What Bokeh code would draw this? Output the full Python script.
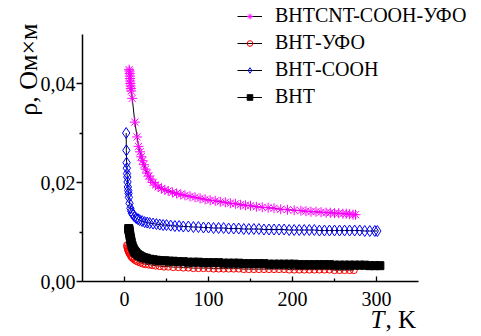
import math
from bokeh.plotting import figure
from bokeh.models import (Range1d, FixedTicker, CustomJSTickFormatter, Legend,
                          LegendItem, Label)
from bokeh.embed import file_html
from bokeh.resources import INLINE

# ---- data ----
names = ["ВНТCNT-СООН-УФО", "ВНТ-УФО", "ВНТ-СООН", "ВНТ"]

t_mag = [5.5, 6, 6.2, 6.4, 6.6, 6.8, 7, 7.3, 7.6, 8,
         9.2, 12.3, 15, 16.7, 18.5, 20, 21.5, 23, 25, 27,
         29, 31, 34, 37, 40, 44, 48, 52, 57, 62,
         67, 72, 78, 84, 90, 96, 102, 108, 114, 120,
         126, 132, 138, 144, 150, 157, 164, 171, 178, 186,
         194, 202, 210, 216, 222, 228, 234, 240, 245, 250,
         255, 260, 264, 268, 272, 275]
r_mag = [0.0428, 0.0425, 0.0420, 0.0415, 0.0410, 0.0405, 0.0400, 0.0395, 0.0390, 0.0385,
         0.0370, 0.0322, 0.0292, 0.0273, 0.0262, 0.0252, 0.0244, 0.0236, 0.0227, 0.0219,
         0.0213, 0.0207, 0.0200, 0.0195, 0.0191, 0.0188, 0.0185, 0.0183, 0.0180, 0.0178,
         0.0176, 0.0174, 0.0172, 0.0170, 0.0168, 0.0166, 0.0164, 0.0163, 0.0161, 0.0160,
         0.0158, 0.0157, 0.0155, 0.0154, 0.0153, 0.0151, 0.0150, 0.0149, 0.0148, 0.0146,
         0.0145, 0.0144, 0.0143, 0.0142, 0.0141, 0.0141, 0.0140, 0.0139, 0.0139, 0.0138,
         0.0138, 0.0137, 0.0137, 0.0136, 0.0135, 0.0135]

t_red = [3, 3.4, 3.8, 4.2, 4.6, 5, 5.5, 6, 7, 8,
         9, 10, 12, 14, 16, 19, 22, 25, 29, 33,
         37, 42, 47, 52, 58, 64, 70, 76, 82, 88,
         94, 100, 106, 112, 118, 124, 130, 136, 142, 148,
         154, 160, 166, 172, 178, 184, 190, 196, 202, 208,
         214, 220, 226, 232, 238, 244, 250, 256, 262, 268,
         273]
r_red = [0.0073, 0.0070, 0.0067, 0.0065, 0.0063, 0.0061, 0.0059, 0.0057, 0.0054, 0.0051,
         0.0049, 0.0047, 0.0044, 0.0042, 0.0040, 0.0038, 0.0036, 0.0035, 0.0034, 0.0033,
         0.0032, 0.0031, 0.0030, 0.0030, 0.0029, 0.0029, 0.0028, 0.0028, 0.0027, 0.0027,
         0.0027, 0.0027, 0.0026, 0.0026, 0.0026, 0.0026, 0.0026, 0.0026, 0.0025, 0.0025,
         0.0025, 0.0025, 0.0025, 0.0025, 0.0025, 0.0025, 0.0025, 0.0024, 0.0024, 0.0024,
         0.0024, 0.0024, 0.0024, 0.0024, 0.0024, 0.0024, 0.0023, 0.0023, 0.0023, 0.0023,
         0.0023]

t_blue = [2, 2.2, 2.5, 2.8, 3, 3.3, 3.6, 4, 4.4, 4.8,
          5.2, 6, 7, 8, 9, 10, 12, 14, 16, 18,
          21, 24, 27, 30, 34, 38, 42, 46, 50, 55,
          60, 65, 70, 76, 82, 88, 94, 100, 106, 112,
          118, 124, 130, 136, 142, 148, 154, 160, 166, 172,
          178, 184, 190, 196, 202, 208, 214, 220, 226, 232,
          238, 244, 250, 256, 262, 268, 274, 280, 286, 292,
          298, 301]
r_blue = [0.0300, 0.0265, 0.0240, 0.0229, 0.0218, 0.0211, 0.0201, 0.0191, 0.0184, 0.0178,
          0.0170, 0.0158, 0.0148, 0.0142, 0.0138, 0.0135, 0.0131, 0.0128, 0.0126, 0.0124,
          0.0122, 0.0120, 0.0119, 0.0118, 0.0117, 0.0116, 0.0115, 0.0114, 0.0114, 0.0113,
          0.0112, 0.0112, 0.0111, 0.0111, 0.0110, 0.0110, 0.0109, 0.0109, 0.0108, 0.0108,
          0.0108, 0.0107, 0.0107, 0.0107, 0.0106, 0.0106, 0.0106, 0.0106, 0.0105, 0.0105,
          0.0105, 0.0105, 0.0105, 0.0104, 0.0104, 0.0104, 0.0104, 0.0104, 0.0104, 0.0103,
          0.0103, 0.0103, 0.0103, 0.0103, 0.0103, 0.0103, 0.0103, 0.0103, 0.0102, 0.0102,
          0.0102, 0.0102]

t_blk = [5, 5.3, 5.6, 6, 6.5, 7, 7.5, 8, 9, 10,
         11, 12, 13, 14, 16, 18, 20, 23, 26, 30,
         34, 38, 43, 48, 53, 58, 64, 70, 76, 82,
         88, 94, 100, 106, 112, 118, 124, 130, 136, 142,
         148, 154, 160, 166, 172, 178, 184, 190, 196, 202,
         208, 214, 220, 226, 232, 238, 244, 250, 256, 262,
         268, 274, 280, 286, 292, 298, 304]
r_blk = [0.0107, 0.0105, 0.0102, 0.0098, 0.0093, 0.0088, 0.0083, 0.0079, 0.0073, 0.0068,
         0.0064, 0.0061, 0.0059, 0.0057, 0.0054, 0.0052, 0.0050, 0.0048, 0.0047, 0.0045,
         0.0044, 0.0043, 0.0042, 0.0042, 0.0041, 0.0041, 0.0040, 0.0040, 0.0039, 0.0039,
         0.0039, 0.0038, 0.0038, 0.0038, 0.0038, 0.0037, 0.0037, 0.0037, 0.0037, 0.0036,
         0.0036, 0.0036, 0.0036, 0.0036, 0.0035, 0.0035, 0.0035, 0.0035, 0.0035, 0.0035,
         0.0034, 0.0034, 0.0034, 0.0034, 0.0034, 0.0034, 0.0034, 0.0033, 0.0033, 0.0033,
         0.0033, 0.0033, 0.0033, 0.0033, 0.0032, 0.0032, 0.0032]

x_ticks = [0, 100, 200, 300]
x_minor = [50, 150, 250]
y_ticks = [0.0, 0.02, 0.04]
y_minor = [0.01, 0.03]
x_axis_span = (-50, 350)
y_axis_span = (0.0, 0.05)

FONT = "Liberation Serif"

# frame covers the whole canvas; the axes sit at fixed data locations
p = figure(width=481, height=336, output_backend="svg", toolbar_location=None,
           x_range=Range1d(-147.62, 425.0), y_range=Range1d(-0.011111, 0.056768),
           min_border=0, min_border_left=0, min_border_right=0,
           min_border_top=0, min_border_bottom=0)
p.outline_line_color = None
p.grid.visible = False
p.background_fill_color = "white"
p.border_fill_color = "white"

xa = p.xaxis[0]
xa.fixed_location = y_axis_span[0]
xa.bounds = x_axis_span
xa.ticker = FixedTicker(ticks=x_ticks, minor_ticks=x_minor)
xa.major_tick_in = 5
xa.major_tick_out = 0
xa.minor_tick_in = 3
xa.minor_tick_out = 0
xa.major_label_standoff = 10
ya = p.yaxis[0]
ya.fixed_location = x_axis_span[0]
ya.bounds = y_axis_span
ya.ticker = FixedTicker(ticks=y_ticks, minor_ticks=y_minor)
ya.major_tick_in = 0
ya.major_tick_out = 6
ya.minor_tick_in = 0
ya.minor_tick_out = 3
ya.major_label_standoff = 1
ya.formatter = CustomJSTickFormatter(code="return tick.toFixed(2).replace('.', ',');")
for ax in (xa, ya):
    ax.axis_line_width = 1.5
    ax.axis_line_color = "black"
    ax.major_tick_line_color = "black"
    ax.minor_tick_line_color = "black"
    ax.major_tick_line_width = 1.3
    ax.minor_tick_line_width = 1.3
    ax.major_label_text_font = FONT
    ax.major_label_text_font_size = "20px"
    ax.major_label_text_color = "black"

series = [
    (t_mag, r_mag, "asterisk", "#ff00ff", 10, names[0]),
    (t_red, r_red, "circle", "red", 7, names[1]),
    (t_blue, r_blue, "diamond", "blue", 11, names[2]),
    (t_blk, r_blk, "square", "black", 8, names[3]),
]
items = []
for t, r, mk, col, sz, nm in series:
    ln = p.line(t, r, line_color="black", line_width=1)
    if mk == "square":
        sc = p.scatter(t, r, marker=mk, size=sz, line_color=col, fill_color=col)
    else:
        sc = p.scatter(t, r, marker=mk, size=sz, line_color=col, fill_color=None,
                       line_width=1)
    items.append(LegendItem(label=nm, renderers=[ln, sc]))

legend = Legend(items=items, location=(237, 228), padding=0, margin=0,
                spacing=4, glyph_height=14, glyph_width=25, label_height=14,
                label_standoff=13, label_text_font=FONT,
                label_text_font_size="20px", label_text_color="black",
                border_line_color=None, background_fill_alpha=0)
p.add_layout(legend, "center")

p.add_layout(Label(x=-114.3, y=0.0428, text="ρ, Ом×м", angle=math.pi / 2,
                   text_align="center", text_baseline="middle",
                   text_font=FONT, text_font_size="26px", text_color="black"))
p.add_layout(Label(x=292.9, y=-0.00768, text="T", text_align="left",
                   text_baseline="middle", text_font=FONT,
                   text_font_style="italic", text_font_size="25px",
                   text_color="black"))
p.add_layout(Label(x=310.7, y=-0.00768, text=", K", text_align="left",
                   text_baseline="middle", text_font=FONT,
                   text_font_size="25px", text_color="black"))

open("out.html", "w").write(file_html(p, INLINE))
